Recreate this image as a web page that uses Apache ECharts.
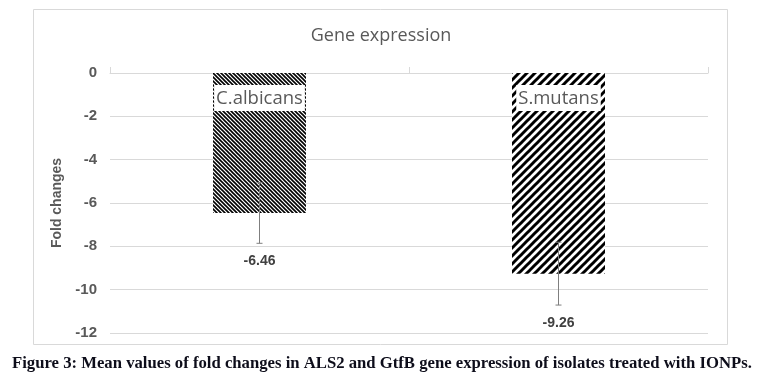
<!DOCTYPE html>
<html>
<head>
<meta charset="utf-8">
<script src="https://cdn.jsdelivr.net/npm/echarts@6/dist/echarts.min.js"></script>
<style>
    html, body { margin: 0; padding: 0; background: #fff; }
    #chart { width: 762px; height: 381px; }
</style>
</head>
<body>
<div id="chart"></div>
<script>
// data
const categories = ['C.albicans', 'S.mutans']
const foldChanges = [-6.46, -9.26]
const errorSize = [1.4, 1.45]
const yTicks = [0, -2, -4, -6, -8, -10, -12]

// hatch patterns (Excel style fills)
function makeHatch(size, lineW, dir) {
    let c = document.createElement('canvas')
    c.width = size
    c.height = size
    let ctx = c.getContext('2d')
    ctx.fillStyle = '#fff'
    ctx.fillRect(0, 0, size, size)
    ctx.strokeStyle = '#000'
    ctx.lineWidth = lineW
    ctx.lineCap = 'square'
    for (let k = -1; k <= 1; k++) {
        ctx.beginPath()
        if (dir === 'down') {
            ctx.moveTo(k * size, 0)
            ctx.lineTo(k * size + size, size)
        } else {
            ctx.moveTo(k * size, size)
            ctx.lineTo(k * size + size, 0)
        }
        ctx.stroke()
    }
    return c
}
const hatchDown = makeHatch(4, 1.6, 'down')
const hatchUp = makeHatch(8, 3, 'up')
const fills = [hatchDown, hatchUp]

let myChart = echarts.init(document.getElementById('chart'), null, { renderer: 'canvas' })

let barData = foldChanges.map(function(v, i) {
    return {
        value: v,
        itemStyle: { color: { image: fills[i], repeat: 'repeat' } }
    }
})
let errData = foldChanges.map(function(v, i) {
    return [i, v, errorSize[i]]
})

let option = {
    backgroundColor: '#fff',
    animation: false,
    title: {
        text: 'Gene expression',
        left: 'center',
        top: 22,
        textStyle: { fontFamily: 'Open Sans', fontSize: 18, fontWeight: 'normal', color: '#595959' }
    },
    grid: { left: 110, right: 54, top: 73, bottom: 48 },
    xAxis: {
        type: 'category',
        data: categories,
        axisLine: { lineStyle: { color: '#d9d9d9' } },
        axisTick: { show: true, inside: true, length: 6, lineStyle: { color: '#d9d9d9' } },
        axisLabel: { show: false }
    },
    yAxis: {
        type: 'value',
        min: -12,
        max: 0,
        interval: 2,
        name: 'Fold changes',
        nameLocation: 'middle',
        nameGap: 44,
        nameTextStyle: { fontFamily: 'Liberation Sans', fontSize: 14, fontWeight: 'bold', color: '#595959' },
        axisLine: { show: false },
        axisTick: { show: false },
        axisLabel: {
            margin: 13,
            fontFamily: 'Liberation Sans',
            fontSize: 15,
            fontWeight: 'bold',
            color: '#595959',
            formatter: function(v) { return yTicks.indexOf(v) >= 0 ? String(v) : '' }
        },
        splitLine: { lineStyle: { color: '#d9d9d9' } }
    },
    series: [
        {
            type: 'bar',
            data: barData,
            barWidth: 93,
            label: {
                show: true,
                position: 'insideTop',
                distance: 12,
                formatter: '{b}',
                backgroundColor: '#fff',
                padding: [4, 2, 3, 2],
                fontFamily: 'Open Sans',
                fontSize: 18.5,
                color: '#595959'
            }
        },
        {
            // error bars + value labels
            type: 'custom',
            z: 5,
            data: errData,
            renderItem: function(params, api) {
                let x = api.value(0)
                let v = api.value(1)
                let e = api.value(2)
                let hi = api.coord([x, v + e])
                let lo = api.coord([x, v - e])
                let cap = 3
                let st = { stroke: '#7f7f7f', lineWidth: 1 }
                return {
                    type: 'group',
                    children: [
                        { type: 'line', shape: { x1: hi[0], y1: hi[1], x2: lo[0], y2: lo[1] }, style: st },
                        { type: 'line', shape: { x1: hi[0] - cap, y1: hi[1], x2: hi[0] + cap, y2: hi[1] }, style: st },
                        { type: 'line', shape: { x1: lo[0] - cap, y1: lo[1], x2: lo[0] + cap, y2: lo[1] }, style: st },
                        {
                            type: 'text',
                            x: lo[0],
                            y: lo[1] + 18,
                            style: {
                                text: String(v),
                                align: 'center',
                                verticalAlign: 'middle',
                                font: 'bold 14px "Liberation Sans"',
                                fill: '#404040'
                            }
                        }
                    ]
                }
            }
        }
    ],
    graphic: [
        {
            type: 'rect',
            shape: { x: 33.5, y: 9.5, width: 694, height: 335 },
            style: { fill: 'none', stroke: '#d9d9d9', lineWidth: 1 },
            silent: true
        },
        {
            type: 'text',
            left: 12,
            top: 355,
            style: {
                text: 'Figure 3: Mean values of fold changes in ALS2 and GtfB gene expression of isolates treated with IONPs.',
                font: 'bold 16.7px "Liberation Serif"',
                fill: '#0d0d1a'
            }
        }
    ]
}
myChart.setOption(option)
</script>
</body>
</html>
